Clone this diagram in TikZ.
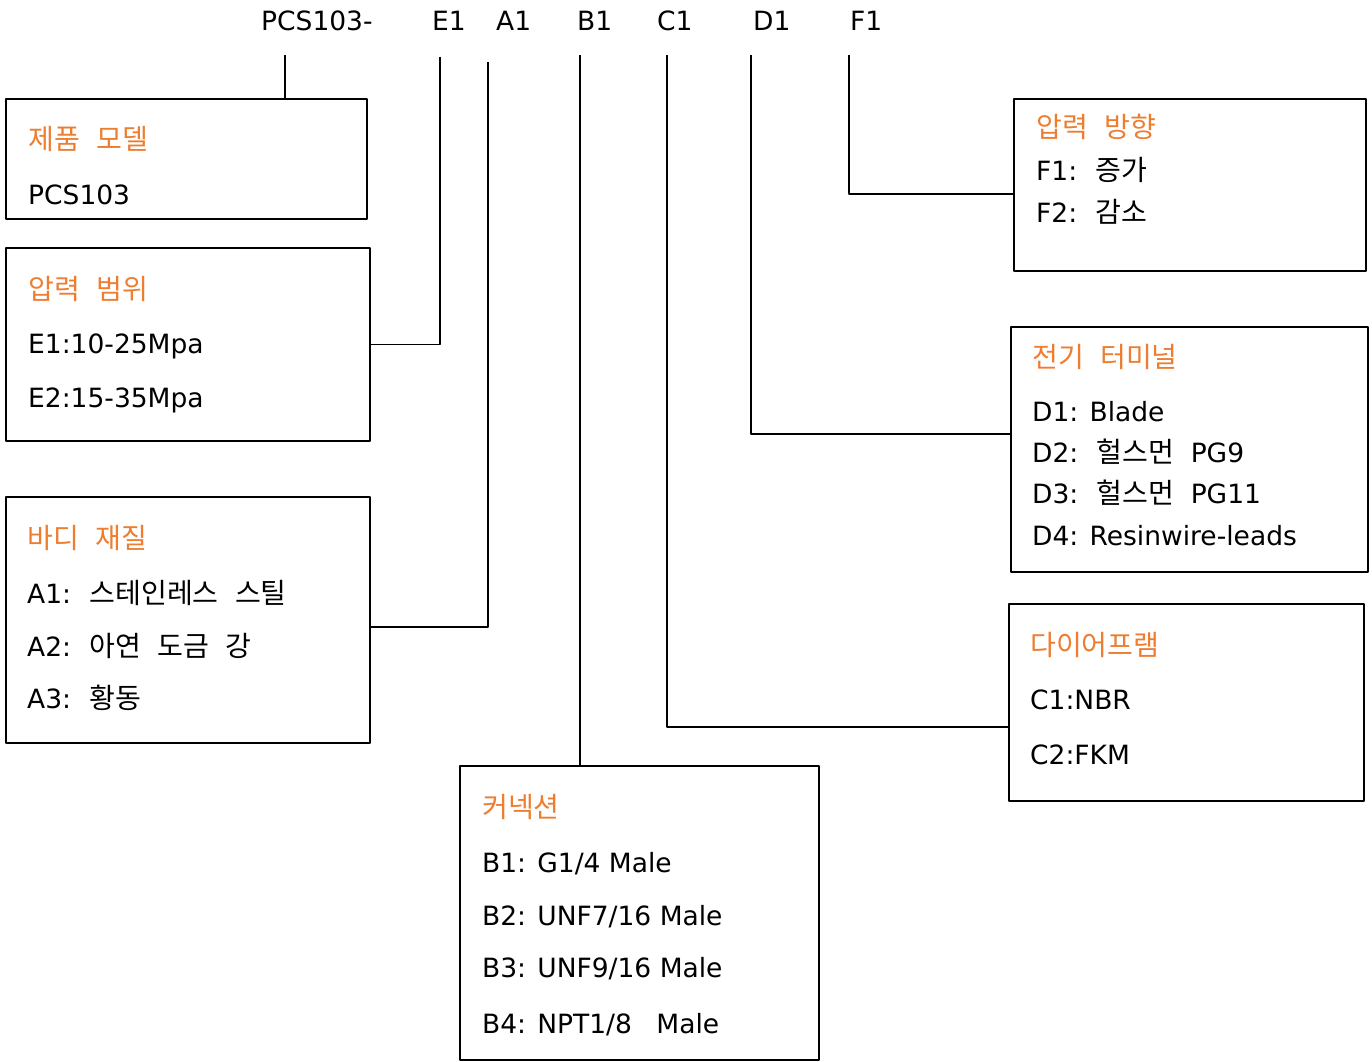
\documentclass[tikz,border=0pt]{standalone}
\usepackage{fontspec}
\setmainfont{DejaVu Sans}
\newfontfamily\krfont[Scale=1.06,WordSpace=2.6]{Noto Sans CJK KR}
\newcommand{\kr}[1]{{\krfont #1}}
\definecolor{titleorange}{RGB}{237,125,49}
\tikzset{
  box/.style={draw=black,line width=1.9bp,inner sep=0pt},
  entry/.style={anchor=base west,inner sep=0pt},
  title/.style={entry,text=titleorange},
  link/.style={black,line width=1.9bp},
}
\begin{document}
\begin{tikzpicture}[line join=bevel,font=\fontsize{26.5bp}{31bp}\selectfont]
\useasboundingbox (0bp,0bp) rectangle (1372bp,1062bp);
%% order code
\node (code_p) at (261bp,1031bp) [entry] {PCS103-};
  \node (code_e) at (432bp,1031bp) [entry] {E1};
  \node (code_a) at (496bp,1031bp) [entry] {A1};
  \node (code_b) at (577bp,1031bp) [entry] {B1};
  \node (code_c) at (657bp,1031bp) [entry] {C1};
  \node (code_d) at (753bp,1031bp) [entry] {D1};
  \node (code_f) at (850bp,1031bp) [entry] {F1};
  \coordinate (tap_p) at (285bp,1007bp);
  \coordinate (tap_e) at (440bp,1005bp);
  \coordinate (tap_a) at (488bp,1000bp);
  \coordinate (tap_b) at (580bp,1007bp);
  \coordinate (tap_c) at (667bp,1007bp);
  \coordinate (tap_d) at (751bp,1007bp);
  \coordinate (tap_f) at (849bp,1007bp);
%% option boxes
\node (box_p) at (186.5bp,903bp) [box,minimum width=361bp,minimum height=120bp] {};
  \node (box_e) at (188bp,717.5bp) [box,minimum width=364bp,minimum height=193bp] {};
  \node (box_a) at (188bp,442bp) [box,minimum width=364bp,minimum height=246bp] {};
  \node (box_b) at (639.5bp,149bp) [box,minimum width=359bp,minimum height=294bp] {};
  \node (box_c) at (1186.5bp,359.5bp) [box,minimum width=355bp,minimum height=197bp] {};
  \node (box_d) at (1189.5bp,612.5bp) [box,minimum width=357bp,minimum height=245bp] {};
  \node (box_f) at (1190bp,877bp) [box,minimum width=352bp,minimum height=172bp] {};
%
\node (title_p) at (28bp,912bp) [title] {\kr{제품 모델}};
  \node (item_p1) at (28bp,857bp) [entry] {PCS103};
%
\node (title_e) at (28bp,762bp) [title] {\kr{압력 범위}};
  \node (item_e1) at (28bp,708bp) [entry] {E1:10-25Mpa};
  \node (item_e2) at (28bp,654bp) [entry] {E2:15-35Mpa};
%
\node (title_a) at (27bp,513bp) [title] {\kr{바디 재질}};
  \node (item_a1) at (27bp,458bp) [entry] {A1:\kr{ 스테인레스 스틸}};
  \node (item_a2) at (27bp,405bp) [entry] {A2:\kr{ 아연 도금 강}};
  \node (item_a3) at (27bp,353bp) [entry] {A3:\kr{ 황동}};
%
\node (title_b) at (482bp,244bp) [title] {\kr{커넥션}};
  \node (item_b1) at (482bp,189bp) [entry] {B1: G1/4 Male};
  \node (item_b2) at (482bp,136bp) [entry] {B2: UNF7/16 Male};
  \node (item_b3) at (482bp,84bp) [entry] {B3: UNF9/16 Male};
  \node (item_b4) at (482bp,29bp) [entry] {B4: NPT1/8\hspace{16bp} Male};
%
\node (title_c) at (1030bp,406bp) [title] {\kr{다이어프램}};
  \node (item_c1) at (1030bp,352bp) [entry] {C1:NBR};
  \node (item_c2) at (1030bp,297bp) [entry] {C2:FKM};
%
\node (title_d) at (1032bp,694bp) [title] {\kr{전기 터미널}};
  \node (item_d1) at (1032bp,640bp) [entry] {D1: Blade};
  \node (item_d2) at (1032bp,599bp) [entry] {D2:\kr{ 헐스먼 }PG9};
  \node (item_d3) at (1032bp,558bp) [entry] {D3:\kr{ 헐스먼 }PG11};
  \node (item_d4) at (1032bp,516bp) [entry] {D4: Resinwire-leads};
%
\node (title_f) at (1036bp,924bp) [title] {\kr{압력 방향}};
  \node (item_f1) at (1036bp,881bp) [entry] {F1:\kr{ 증가}};
  \node (item_f2) at (1036bp,839bp) [entry] {F2:\kr{ 감소}};
%% leaders
\draw [link] (tap_p) -- (tap_p |- box_p.north);
  \draw [link] (tap_e) |- (box_e.east);
  \draw [link] (tap_a) |- ([yshift=-7bp]box_a.east);
  \draw [link] (tap_b) -- (tap_b |- box_b.north);
  \draw [link] (tap_c) |- ([yshift=-24.5bp]box_c.west);
  \draw [link] (tap_d) |- ([yshift=15.5bp]box_d.west);
  \draw [link] (tap_f) |- ([yshift=-9bp]box_f.west);
%
\end{tikzpicture}
\end{document}
